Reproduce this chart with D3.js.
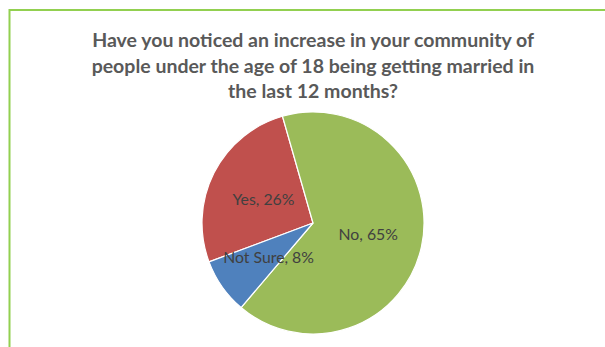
<!DOCTYPE html>
<html>
<head>
<meta charset="utf-8">
<script src="https://cdn.jsdelivr.net/npm/d3@7"></script>
<style>
  html, body { margin: 0; padding: 0; background: #ffffff; }
  svg { display: block; }
</style>
</head>
<body>
<svg id="chart" width="605" height="347"></svg>
<script>
// Survey answers (percent of respondents)
const categories = ["Yes", "No", "Not Sure"];
const values = [26, 65, 8];
const sliceColors = ["#C0504D", "#9BBB59", "#4F81BD"];
const titleLines = [
  "Have you noticed an increase in your community of",
  "people under the age of 18 being getting married in",
  "the last 12 months?"
];

const width = 605, height = 347;
const cx = 313, cy = 223, radius = 111;

const svg = d3.select("#chart");

// Chart frame (top and left edges visible)
svg.append("path")
  .attr("d", `M9.5,${height + 5} L9.5,10 L${width + 5},10`)
  .attr("fill", "none")
  .attr("stroke", "#92D050")
  .attr("stroke-width", 2);

// Title
svg.append("text")
  .attr("text-anchor", "middle")
  .attr("font-family", "Lato, 'Open Sans', sans-serif")
  .attr("font-weight", "bold")
  .attr("font-size", 19.5)
  .attr("fill", "#595959")
  .selectAll("tspan")
  .data(titleLines)
  .join("tspan")
  .attr("x", cx)
  .attr("y", (d, i) => 47 + i * 25.5)
  .text(d => d);

// Pie
const data = categories.map((c, i) => ({ category: c, value: values[i], color: sliceColors[i] }));
const startDeg = 249.5;
const pie = d3.pie()
  .sort(null)
  .value(d => d.value)
  .startAngle(startDeg * Math.PI / 180)
  .endAngle(startDeg * Math.PI / 180 + 2 * Math.PI);
const arcs = pie(data);
const arc = d3.arc().innerRadius(0).outerRadius(radius);

const g = svg.append("g").attr("transform", `translate(${cx},${cy})`);
g.selectAll("path.slice")
  .data(arcs)
  .join("path")
  .attr("class", "slice")
  .attr("d", arc)
  .attr("fill", d => d.data.color)
  .attr("stroke", "#ffffff")
  .attr("stroke-width", 1.2)
  .attr("stroke-linejoin", "round");

// Data labels: category and percent, placed near each slice's centroid
const labelArc = d3.arc().innerRadius(radius * 0.5).outerRadius(radius * 0.5);
const labelNudge = { "Yes": [0, 1.5], "No": [1, -0.5], "Not Sure": [1, 2.5] };
g.selectAll("text.label")
  .data(arcs)
  .join("text")
  .attr("class", "label")
  .attr("text-anchor", "middle")
  .attr("font-family", "Lato, 'Open Sans', sans-serif")
  .attr("font-size", 15.8)
  .attr("fill", "#404040")
  .attr("transform", d => {
    const [x, y] = labelArc.centroid(d);
    const [nx, ny] = labelNudge[d.data.category];
    return `translate(${x + nx},${y + ny})`;
  })
  .attr("dy", "0.35em")
  .text(d => `${d.data.category}, ${d.data.value}%`);
</script>
</body>
</html>
